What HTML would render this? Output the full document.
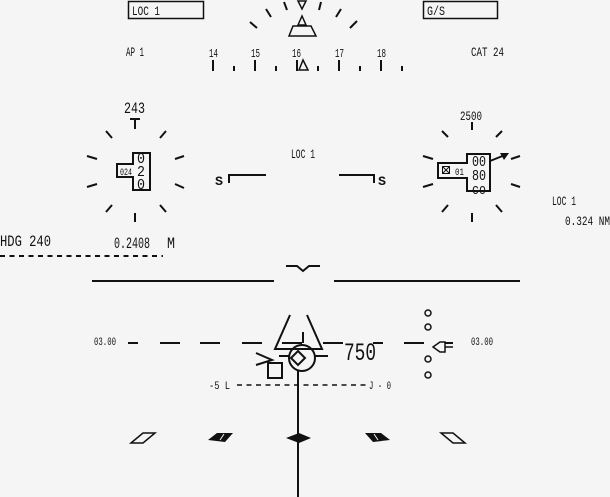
<!DOCTYPE html>
<html><head><style>
html,body{margin:0;padding:0;background:#f5f5f5;}
svg{display:block;}
text{font-family:"Liberation Mono",monospace;fill:#111;}
</style></head><body>
<svg width="610" height="497" viewBox="0 0 610 497" xmlns="http://www.w3.org/2000/svg">
<rect width="610" height="497" fill="#f5f5f5"/>
<g stroke="#111" fill="none" stroke-width="1.5">
<rect x="128.5" y="1.5" width="75" height="17"/>
<rect x="423.5" y="1.5" width="74" height="17"/>
</g>
<g font-size="13">
<text x="132" y="15" textLength="28" lengthAdjust="spacingAndGlyphs">LOC 1</text>
<text x="427" y="15" textLength="18" lengthAdjust="spacingAndGlyphs">G/S</text>
<text x="126" y="56" textLength="18" lengthAdjust="spacingAndGlyphs">AP 1</text>
<text x="471" y="56" textLength="33" lengthAdjust="spacingAndGlyphs">CAT 24</text>
<text x="209" y="57" font-size="12" textLength="9" lengthAdjust="spacingAndGlyphs">14</text>
<text x="251" y="57" font-size="12" textLength="9" lengthAdjust="spacingAndGlyphs">15</text>
<text x="292" y="57" font-size="12" textLength="9" lengthAdjust="spacingAndGlyphs">16</text>
<text x="335" y="57" font-size="12" textLength="9" lengthAdjust="spacingAndGlyphs">17</text>
<text x="377" y="57" font-size="12" textLength="9" lengthAdjust="spacingAndGlyphs">18</text>
</g>
<g stroke="#111" stroke-width="2" fill="none">
<line x1="250" y1="22" x2="257" y2="28"/><line x1="266" y1="9" x2="271" y2="17"/><line x1="284" y1="2" x2="287" y2="10"/>
<line x1="321" y1="2" x2="319" y2="10"/><line x1="341" y1="9" x2="336" y2="17"/><line x1="357" y1="21" x2="350" y2="28"/>
<line x1="213" y1="60" x2="213" y2="71"/><line x1="255" y1="60" x2="255" y2="71"/><line x1="297" y1="60" x2="297" y2="71"/><line x1="339" y1="60" x2="339" y2="71"/><line x1="381" y1="60" x2="381" y2="71"/>
<line x1="234" y1="66" x2="234" y2="71"/><line x1="276" y1="66" x2="276" y2="71"/><line x1="318" y1="66" x2="318" y2="71"/><line x1="360" y1="66" x2="360" y2="71"/><line x1="402" y1="66" x2="402" y2="71"/>
</g>
<g stroke="#111" stroke-width="1.5" fill="none">
<polygon points="298,1 306,1 302,9"/>
<polygon points="302,16 298,25 306,25"/>
<polygon points="293,26 311,26 316,36 289,36"/>
<polygon points="303,60 299,70 308,70"/>
</g>
<text x="124" y="113" font-size="16" textLength="21" lengthAdjust="spacingAndGlyphs">243</text>
<g stroke="#111" stroke-width="2" fill="none">
<line x1="130" y1="119" x2="140" y2="119"/><line x1="135" y1="119" x2="135" y2="129"/>
<line x1="106" y1="131" x2="112" y2="138"/><line x1="166" y1="131" x2="160" y2="138"/>
<line x1="87" y1="156" x2="97" y2="159"/><line x1="184" y1="156" x2="175" y2="159"/>
<line x1="87" y1="187" x2="97" y2="184"/><line x1="184" y1="188" x2="175" y2="184"/>
<line x1="106" y1="212" x2="112" y2="205"/><line x1="166" y1="212" x2="160" y2="205"/>
<line x1="135" y1="213" x2="135" y2="222"/>
<polygon points="133,153 150,153 150,190 133,190 133,177 117,177 117,164 133,164"/>
<line x1="472" y1="122" x2="472" y2="130"/>
<line x1="442" y1="131" x2="448" y2="137"/><line x1="502" y1="131" x2="496" y2="137"/>
<line x1="423" y1="156" x2="433" y2="159"/><line x1="520" y1="156" x2="511" y2="159"/>
<line x1="423" y1="187" x2="433" y2="184"/><line x1="520" y1="187" x2="511" y2="184"/>
<line x1="442" y1="212" x2="448" y2="205"/><line x1="502" y1="212" x2="496" y2="205"/>
<line x1="472" y1="213" x2="472" y2="222"/>
<polygon points="467,154 490,154 490,191 467,191 467,178 438,178 438,163 467,163"/>
<line x1="490" y1="161" x2="505" y2="155"/>
</g>
<polygon points="509,153 500,153 504,160" fill="#111"/>
<rect x="442.5" y="166.5" width="7" height="7" fill="none" stroke="#111" stroke-width="1"/>
<path d="M443 167l6 6M449 167l-6 6" stroke="#111" stroke-width="1"/>
<g font-size="10">
<text x="120" y="175" textLength="12" lengthAdjust="spacingAndGlyphs">024</text>
<text x="455" y="175" textLength="9" lengthAdjust="spacingAndGlyphs">01</text>
</g>
<g font-size="15">
<text x="137" y="163" textLength="8" lengthAdjust="spacingAndGlyphs">0</text>
<text x="137" y="176" textLength="8" lengthAdjust="spacingAndGlyphs">2</text>
<text x="137" y="189" textLength="8" lengthAdjust="spacingAndGlyphs">0</text>
<text x="472" y="166" textLength="14" lengthAdjust="spacingAndGlyphs">00</text>
<text x="472" y="180" textLength="14" lengthAdjust="spacingAndGlyphs">80</text>
<text x="472" y="194" textLength="14" lengthAdjust="spacingAndGlyphs">co</text>
</g>
<g font-size="13">
<text x="460" y="120" textLength="22" lengthAdjust="spacingAndGlyphs">2500</text>
<text x="291" y="158" textLength="24" lengthAdjust="spacingAndGlyphs">LOC 1</text>
<text x="552" y="205" textLength="24" lengthAdjust="spacingAndGlyphs">LOC 1</text>
<text x="565" y="225" textLength="45" lengthAdjust="spacingAndGlyphs">0.324  NM</text>
<text x="0" y="246" font-size="16" textLength="51" lengthAdjust="spacingAndGlyphs">HDG 240</text>
<text x="114" y="248" font-size="16" textLength="36" lengthAdjust="spacingAndGlyphs">0.2408</text>
<text x="167" y="248" font-size="16" textLength="8" lengthAdjust="spacingAndGlyphs">M</text>
<text x="215" y="185" font-weight="bold" textLength="8" lengthAdjust="spacingAndGlyphs">S</text>
<text x="378" y="185" font-weight="bold" textLength="8" lengthAdjust="spacingAndGlyphs">S</text>
<text x="94" y="345" font-size="11" textLength="22" lengthAdjust="spacingAndGlyphs">03.00</text>
<text x="471" y="345" font-size="11" textLength="22" lengthAdjust="spacingAndGlyphs">03.00</text>
<text x="209" y="389" font-size="11" textLength="21" lengthAdjust="spacingAndGlyphs">-5 L</text>
<text x="369" y="389" font-size="11" textLength="22" lengthAdjust="spacingAndGlyphs">J - 0</text>
<text x="344" y="360" font-size="25" textLength="32" lengthAdjust="spacingAndGlyphs">750</text>
</g>
<g stroke="#111" stroke-width="2" fill="none">
<polyline points="229,183 229,175 266,175"/>
<polyline points="339,175 374,175 374,183"/>
<line x1="0" y1="256" x2="163" y2="256" stroke-dasharray="5,4.5"/>
<line x1="92" y1="281" x2="274" y2="281"/>
<line x1="334" y1="281" x2="520" y2="281"/>
<polyline points="286,266 297,266 303,271 309,266 320,266"/>
<line x1="128" y1="343" x2="138" y2="343"/><line x1="160" y1="343" x2="180" y2="343"/>
<line x1="200" y1="343" x2="220" y2="343"/><line x1="242" y1="343" x2="262" y2="343"/>
<line x1="282" y1="343" x2="302" y2="343"/><line x1="323" y1="343" x2="343" y2="343"/>
<line x1="373" y1="343" x2="383" y2="343"/><line x1="404" y1="343" x2="424" y2="343"/>
<line x1="445" y1="343" x2="453" y2="343"/>
<polyline points="290,315 275,349 322,349 307,315"/>
<line x1="303" y1="332" x2="303" y2="343"/>
<circle cx="302" cy="358" r="13"/>
<line x1="279" y1="356" x2="290" y2="356"/><line x1="315" y1="356" x2="328" y2="356"/>
<line x1="298" y1="371" x2="298" y2="497"/>
<rect x="268" y="363" width="14" height="15"/>
<polyline points="256,353 272,360 256,365"/>
<line x1="237" y1="385" x2="366" y2="385" stroke-dasharray="5,4.5" stroke-width="1.5"/>
</g>
<polygon points="298,351 305,358 298,365 291,358" fill="none" stroke="#111" stroke-width="2"/>
<g stroke="#111" stroke-width="1.5" fill="none">
<circle cx="428" cy="313" r="3"/><circle cx="428" cy="327" r="3"/>
<circle cx="428" cy="359" r="3"/><circle cx="428" cy="375" r="3"/>
<polygon points="433,347 440,342 445,342 445,352 440,352"/>
<line x1="445" y1="347" x2="453" y2="347"/>
<polygon points="131,443 143,433 155,433 143,443"/>
<polygon points="465,443 453,433 441,433 453,443"/>
</g>
<g fill="#111">
<polygon points="208,440 217,433 233,433 225,442"/>
<polygon points="390,440 381,433 365,433 373,442"/>
<polygon points="286,438 299,433 311,438 299,443"/>
</g>
<g stroke="#f5f5f5" stroke-width="1">
<line x1="220" y1="440" x2="224" y2="434"/>
<line x1="378" y1="440" x2="374" y2="434"/>
</g>
</svg>
</body></html>
